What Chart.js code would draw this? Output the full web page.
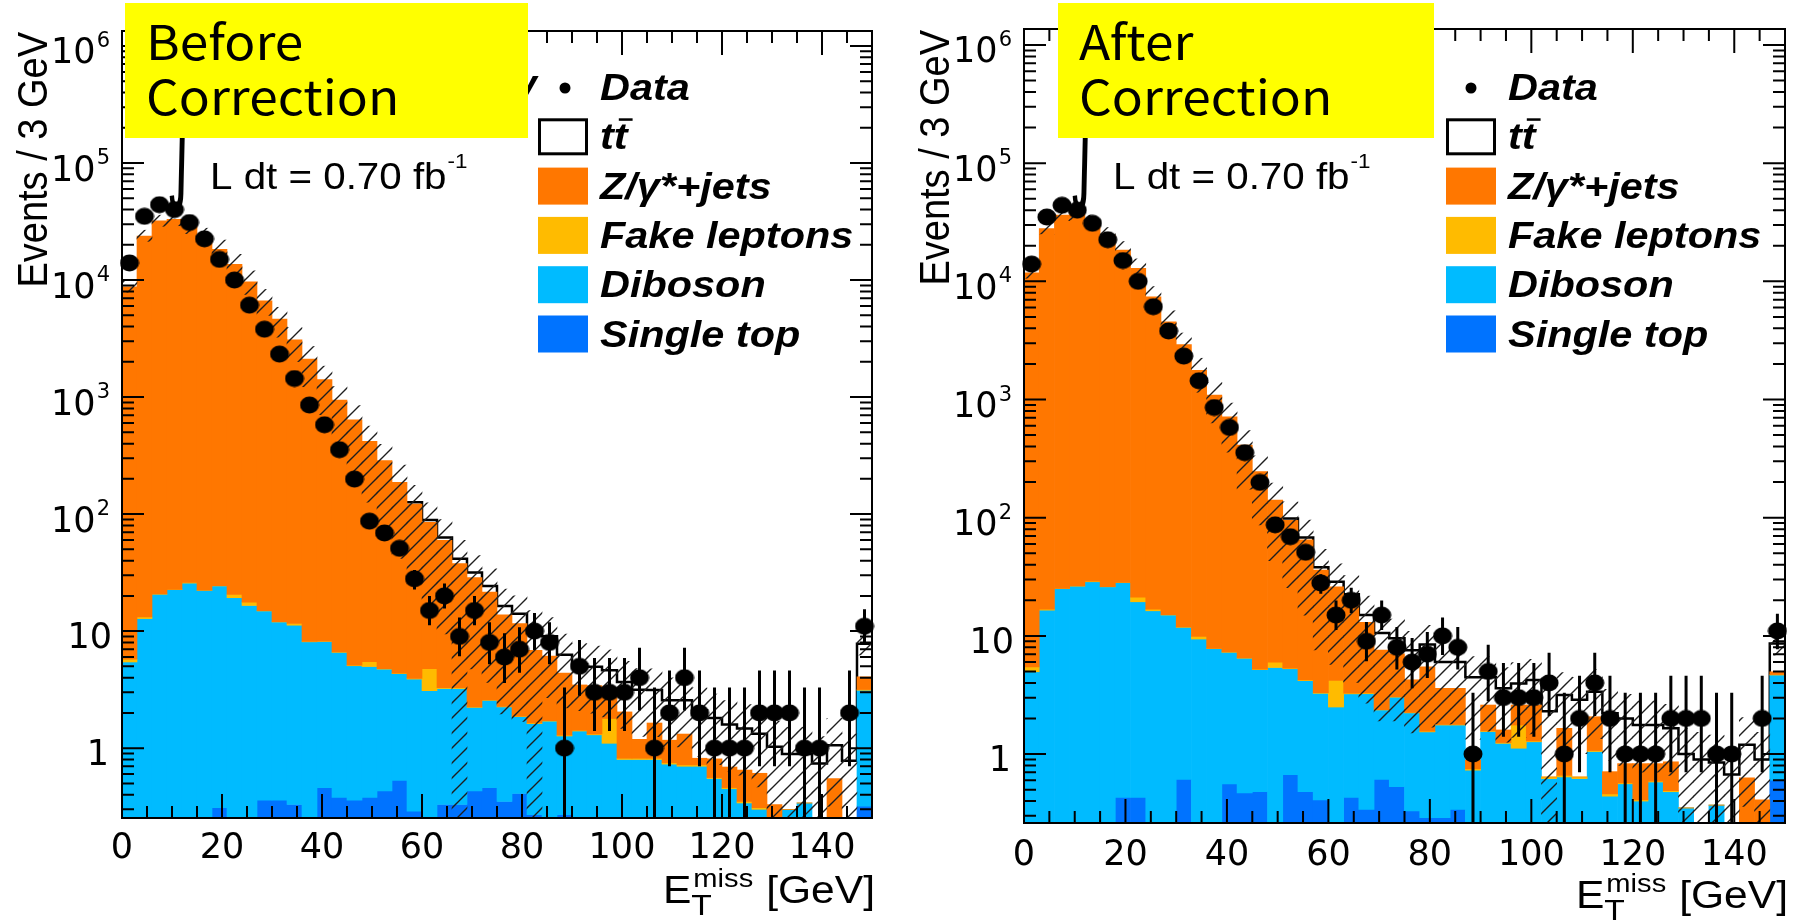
<!DOCTYPE html>
<html><head><meta charset="utf-8">
<script src="https://cdn.jsdelivr.net/npm/chart.js@4.4.1/dist/chart.umd.min.js"></script>
<style>
html,body{margin:0;padding:0;background:#fff;}
#wrap{position:relative;width:1800px;height:922px;overflow:hidden;}
.panel{position:absolute;top:0;width:900px;height:922px;}
</style></head><body>
<div id="wrap">
<div class="panel" style="left:0"><canvas id="c1" width="900" height="922"></canvas></div>
<div class="panel" style="left:900px"><canvas id="c2" width="900" height="922"></canvas></div>
</div>
<script>
// ---------------- data ----------------
const NB = 50;
const BIN_W = 3; // GeV
const xTickValues = [0, 20, 40, 60, 80, 100, 120, 140];
const yTickExponents = [0, 1, 2, 3, 4, 5, 6];

const dataCounts = [14000, 35000, 44000, 40000, 31000, 22500, 15000, 10000, 6100, 3800, 2330, 1440, 855, 580, 355, 199, 87, 69, 51, 28, 15, 20, 9, 15, 8, 6, 7, 10, 8, 1, 5, 3, 3, 3, 4, 1, 2, 4, 2, 1, 1, 1, 2, 2, 2, 1, 1, 0, 2, 11];
const dataErrUp = [118, 187, 210, 200, 176, 150, 122, 100, 78, 62, 48, 38, 29, 24, 19, 14, 9.8, 8.8, 7.7, 5.3, 4.96, 5.5, 4.1, 4.96, 3.9, 3.6, 3.8, 4.3, 3.9, 2.3, 3.4, 2.9, 2.9, 2.9, 3.2, 2.3, 2.6, 3.2, 2.6, 2.3, 2.3, 2.3, 2.6, 2.6, 2.6, 2.3, 2.3, 0, 2.6, 4.4];
const dataErrDown = [118, 187, 210, 200, 176, 150, 122, 100, 78, 62, 48, 38, 29, 24, 19, 14, 9.3, 8.3, 7.1, 5.3, 3.8, 4.4, 2.9, 3.8, 2.8, 2.4, 2.6, 3.1, 2.8, 0.83, 2.2, 1.6, 1.6, 1.6, 1.9, 0.83, 1.3, 1.9, 1.3, 0.83, 0.83, 0.83, 1.3, 1.3, 1.3, 0.83, 0.83, 0, 1.3, 3.3];

// Before correction (left)
const beforeSingleTop = [0.1, 0.1, 0.15, 0.15, 0.2, 0.2, 0.31, 0.2, 0.26, 0.36, 0.36, 0.33, 0.2, 0.46, 0.38, 0.36, 0.38, 0.43, 0.53, 0.29, 0.2, 0.33, 0.33, 0.43, 0.46, 0.35, 0.41, 0.27, 0.2, 0.27, 0.2, 0.2, 0.2, 0.2, 0.2, 0.2, 0.2, 0.2, 0.2, 0.15, 0.15, 0.1, 0.1, 0, 0.1, 0.1, 0, 0, 0, 0.32];
const beforeDiboson = [5.35, 12.7, 20.5, 22.5, 25.5, 22.1, 24.0, 19.1, 16.3, 14.5, 11.6, 10.9, 7.9, 7.7, 6.2, 4.7, 4.6, 4.3, 3.8, 3.6, 2.9, 2.9, 2.9, 1.8, 2.1, 1.9, 1.45, 1.35, 1.5, 1.0, 1.2, 1.1, 0.9, 0.6, 0.6, 0.6, 0.53, 0.5, 0.5, 0.4, 0.3, 0.24, 0.2, 0.1, 0.2, 0.24, 0.05, 0.05, 0.05, 2.8];
const beforeFake = [0.3, 0.4, 0.1, 0.1, 0.4, 0.1, 0.1, 1.3, 1.1, 0.1, 0.1, 0.4, 0.05, 0.05, 0.05, 0.05, 0.5, 0.05, 0.05, 0.05, 1.67, 0.05, 0.05, 0.02, 0.02, 0.02, 0.02, 0.02, 0.02, 0.02, 0.02, 0.02, 0.69, 0.02, 0.02, 0.02, 0.02, 0.02, 0.02, 0.01, 0.01, 0.01, 0.01, 0, 0, 0, 0, 0, 0, 0.05];
const beforeZjets = [8744, 23787, 31979, 33077, 28974, 23477, 18276, 13579, 9642, 6635, 4628, 3078, 2102, 1402, 937, 633, 413.5, 282, 182.7, 118, 80.2, 56.3, 34.4, 26.4, 19.0, 11.5, 9.7, 5.2, 4.4, 3.1, 2.05, 2.1, 1.43, 1.22, 0.37, 0.82, 0.42, 0.6, 0.1, 0.25, 0.23, 0.3, 0.3, 0.23, 0, 0, 0, 0.5, 0, 0.9];
const beforeTtbar = [0.3, 0.6, 1.0, 1.3, 1.6, 2.0, 2.2, 2.4, 2.6, 2.8, 3.0, 3.1, 3.2, 3.3, 3.3, 3.4, 3.4, 3.3, 3.3, 4.0, 4.0, 3.5, 3.8, 3.0, 2.7, 2.6, 2.5, 3.5, 2.9, 1.9, 1.75, 1.55, 1.4, 1.64, 1.96, 1.5, 1.4, 1.24, 1.29, 1.0, 0.9, 0.82, 0.72, 0.7, 0.59, 0.55, 0.69, 0.51, 0.73, 3.74];
const beforeUncUp = [0.12, 0.12, 0.12, 0.14, 0.16, 0.18, 0.2, 0.22, 0.24, 0.25, 0.26, 0.27, 0.28, 0.3, 0.3, 0.32, 0.34, 0.36, 0.38, 0.4, 0.4, 0.42, 0.44, 0.4, 0.4, 0.4, 0.42, 0.45, 0.45, 0.5, 0.5, 0.5, 0.5, 0.5, 0.52, 0.52, 0.55, 0.55, 0.55, 0.6, 0.6, 0.6, 0.6, 0.65, 0.7, 0.7, 0.7, 0.7, 0.7, 0.2];
const beforeUncDown = [0.1, 0.1, 0.1, 0.12, 0.14, 0.16, 0.18, 0.2, 0.22, 0.25, 0.3, 0.35, 0.42, 0.5, 0.58, 0.65, 0.7, 0.74, 0.78, 0.8, 0.82, 0.85, 1.0, 0.85, 0.85, 0.88, 0.88, 1.0, 0.7, 0.65, 0.6, 0.6, 0.6, 0.6, 0.6, 0.6, 0.6, 0.6, 0.6, 0.6, 0.6, 0.6, 0.65, 1.0, 1.0, 1.0, 1.0, 0.7, 0.8, 0.2];

// After correction (right)
const afterSingleTop = [0.1, 0.1, 0.15, 0.15, 0.2, 0.2, 0.43, 0.43, 0.2, 0.2, 0.61, 0.2, 0.2, 0.56, 0.47, 0.48, 0.2, 0.67, 0.48, 0.41, 0.2, 0.43, 0.34, 0.61, 0.53, 0.33, 0.29, 0.29, 0.34, 0.2, 0.2, 0.2, 0.2, 0.2, 0.2, 0.2, 0.2, 0.2, 0.15, 0.15, 0.15, 0.15, 0.1, 0.1, 0, 0.1, 0, 0, 0, 0.6];
const afterDiboson = [4.87, 16.4, 25.0, 26.2, 28.5, 25.8, 27.8, 19.0, 16.1, 14.8, 11.2, 9.2, 7.6, 6.7, 6.0, 4.7, 5.2, 4.6, 3.7, 2.85, 2.3, 2.8, 2.9, 1.75, 2.5, 1.9, 1.25, 1.47, 1.42, 0.53, 1.35, 1.03, 0.92, 1.07, 0.42, 0.44, 0.42, 0.85, 0.29, 0.41, 0.25, 0.43, 0.38, 0.25, 0.05, 0.27, 0.05, 0.05, 0.05, 4.06];
const afterFake = [0.5, 0.3, 0.1, 0.1, 0.3, 0.1, 0.1, 1.8, 0.5, 0.1, 0.1, 0.5, 0.05, 0.05, 0.05, 0.05, 0.6, 0.05, 0.05, 0.05, 1.7, 0.05, 0.05, 0.02, 0.02, 0.02, 0.02, 0.02, 0.02, 0.02, 0.02, 0.02, 0.64, 0.02, 0.02, 0.02, 0.02, 0.02, 0.02, 0.01, 0.01, 0.01, 0.01, 0, 0, 0, 0, 0, 0, 0.05];
const afterZjets = [11795, 27983, 36275, 37473, 31871, 24574, 18372, 12879, 7383, 4525, 2908, 1760, 1082, 707, 404.5, 240, 135, 89.6, 60.8, 32.7, 21.8, 16.7, 9.7, 5.2, 4.0, 2.0, 3.9, 1.82, 1.82, 0.14, 1.03, 0.35, 0.84, 1.31, 0, 0.99, 0, 1.0, 0.25, 0.26, 0.42, 0.24, 0.37, 0, 0, 0, 0, 0.58, 0.36, 0.26];
const afterTtbar = [0.3, 0.6, 1.0, 1.3, 1.6, 2.0, 2.2, 2.4, 2.6, 2.8, 3.0, 3.1, 3.2, 3.3, 3.3, 3.4, 3.4, 3.6, 3.0, 2.0, 2.7, 2.5, 2.0, 3.0, 2.5, 3.3, 3.0, 2.4, 2.4, 3.57, 1.86, 2.0, 1.36, 1.63, 1.66, 1.51, 2.24, 1.3, 1.5, 1.17, 0.93, 0.93, 0.79, 0.65, 0.85, 0.48, 0.62, 0.57, 0.49, 3.63];
const afterUncUp = [0.1, 0.1, 0.1, 0.12, 0.14, 0.16, 0.18, 0.2, 0.22, 0.24, 0.25, 0.26, 0.28, 0.3, 0.32, 0.34, 0.36, 0.38, 0.4, 0.42, 0.42, 0.44, 0.45, 0.45, 0.45, 0.45, 0.45, 0.5, 0.5, 0.5, 0.5, 0.5, 0.5, 0.5, 0.55, 0.55, 0.55, 0.55, 0.6, 0.6, 0.6, 0.6, 0.6, 0.65, 0.7, 0.7, 0.7, 0.7, 0.7, 0.2];
const afterUncDown = [0.1, 0.1, 0.1, 0.12, 0.14, 0.16, 0.18, 0.2, 0.22, 0.25, 0.3, 0.35, 0.42, 0.5, 0.58, 0.65, 0.7, 0.74, 0.78, 0.8, 0.8, 0.82, 0.82, 0.82, 0.8, 0.8, 0.8, 0.7, 0.7, 0.7, 0.65, 0.65, 0.65, 0.65, 1.0, 0.65, 0.65, 0.6, 0.6, 0.6, 0.6, 0.6, 0.6, 1.0, 1.0, 1.0, 1.0, 0.7, 0.8, 0.2];

const legendLabels = ['Data', 'tt', 'Z/γ*+jets', 'Fake leptons', 'Diboson', 'Single top'];

// ---------------- styles ----------------
const COL = { st: '#0073ff', db: '#00bbff', fk: '#ffbb00', zj: '#ff7700', tt: '#ffffff' };
const SX = 1.12;          // horizontal text stretch of the original figure
const FLOOR = 1e-4;       // stand-in for 0 on the log axis (below the visible range)
const binLow = Array.from({length: NB}, (_, i) => i * BIN_W);
const binCenter = binLow.map(v => v + BIN_W / 2);

const panels = [
  { id: 'c1', boxText: ['Before', 'Correction'],
    st: beforeSingleTop, db: beforeDiboson, fk: beforeFake, zj: beforeZjets, tt: beforeTtbar,
    up: beforeUncUp, dn: beforeUncDown,
    g: { yW: 122, padTop: 31, padRight: 28, xH: 104, yMin: 0.253, yMax: 1.343e6,
         box: [125, 3, 403, 135], boxTextX: 146, lumiX: 210, intX: 182,
         legBox: 538, legText: 600, legDot: 565, prelim: true, xPad: 10 } },
  { id: 'c2', boxText: ['After', 'Correction'],
    st: afterSingleTop, db: afterDiboson, fk: afterFake, zj: afterZjets, tt: afterTtbar,
    up: afterUncUp, dn: afterUncDown,
    g: { yW: 124, padTop: 29, padRight: 15, xH: 99, yMin: 0.261, yMax: 1.365e6,
         box: [158, 3, 376, 135], boxTextX: 179, lumiX: 213, intX: 185,
         legBox: 546, legText: 608, legDot: 571, prelim: false, xPad: 12 } }
];

function makeHatch(ctx) {
  const c = document.createElement('canvas');
  const P = 15;
  c.width = P; c.height = P;
  const g = c.getContext('2d');
  g.strokeStyle = '#1e1e1e';
  g.lineWidth = 1.4;
  g.beginPath();
  g.moveTo(-2, P + 2); g.lineTo(P + 2, -2);
  g.moveTo(-2, 2); g.lineTo(2, -2);
  g.moveTo(P - 2, P + 2); g.lineTo(P + 2, P - 2);
  g.stroke();
  return ctx.createPattern(c, 'repeat');
}

function stretchText(ctx, text, x, y, align, sx) {
  const s = sx || SX;
  ctx.save();
  const w = ctx.measureText(text).width * s;
  const x0 = align === 'right' ? x - w : x;
  ctx.translate(x0, y);
  ctx.scale(s, 1);
  ctx.textAlign = 'left';
  ctx.fillText(text, 0, 0);
  ctx.restore();
  return w;
}

function drawFrame(chart) {
  const {ctx, chartArea: a, scales: {x, y}} = chart;
  ctx.save();
  ctx.strokeStyle = '#000';
  ctx.lineWidth = 2;
  ctx.beginPath();
  for (let k = -1; k <= 7; k++) {
    for (let m = 1; m <= 9; m++) {
      const v = m * Math.pow(10, k);
      if (v < y.min || v > y.max) continue;
      const py = y.getPixelForValue(v);
      const len = m === 1 ? 22 : 12;
      ctx.moveTo(a.left, py); ctx.lineTo(a.left + len, py);
      ctx.moveTo(a.right, py); ctx.lineTo(a.right - len, py);
    }
  }
  for (let v = 0; v <= 150; v += 5) {
    const px = x.getPixelForValue(v);
    const len = v % 20 === 0 ? 24 : 12;
    ctx.moveTo(px, a.bottom); ctx.lineTo(px, a.bottom - len);
    ctx.moveTo(px, a.top); ctx.lineTo(px, a.top + len);
  }
  ctx.stroke();
  ctx.strokeRect(a.left, a.top, a.right - a.left, a.bottom - a.top);
  ctx.restore();
}

function drawErrorBars(chart) {
  const {ctx, chartArea: a, scales: {x, y}} = chart;
  ctx.save();
  ctx.strokeStyle = '#000';
  ctx.lineWidth = 3;
  ctx.beginPath();
  dataCounts.forEach((n, i) => {
    if (n <= 0) return;
    const px = x.getPixelForValue(binCenter[i]);
    const lo = n - dataErrDown[i];
    const y1 = lo > 0 ? Math.min(y.getPixelForValue(lo), a.bottom) : a.bottom;
    const y2 = Math.max(y.getPixelForValue(n + dataErrUp[i]), a.top);
    ctx.moveTo(px, y1); ctx.lineTo(px, y2);
  });
  ctx.stroke();
  ctx.restore();
}

function drawOverlay(chart, p) {
  const {ctx, chartArea: a, scales: {y}} = chart;
  const g = p.g;
  ctx.save();
  ctx.fillStyle = '#000';
  ctx.textBaseline = 'alphabetic';

  // y tick labels
  yTickExponents.forEach(k => {
    const py = y.getPixelForValue(Math.pow(10, k));
    ctx.font = '35px "DejaVu Sans"';
    ctx.textAlign = 'right';
    if (k === 0) {
      ctx.fillText('1', a.left - 13, py + 17);
    } else if (k === 1) {
      ctx.fillText('10', a.left - 10, py + 17);
    } else {
      ctx.font = '21px "DejaVu Sans"';
      const ws = ctx.measureText(String(k)).width;
      ctx.textAlign = 'left';
      ctx.fillText(String(k), a.left - 12 - ws, py + 1);
      ctx.font = '35px "DejaVu Sans"';
      ctx.textAlign = 'right';
      ctx.fillText('10', a.left - 13 - ws, py + 17.5);
    }
  });

  // y title (rotated)
  ctx.save();
  ctx.translate(a.left - 75, a.top + 1);
  ctx.rotate(-Math.PI / 2);
  ctx.scale(1, SX);
  ctx.font = '38px "Liberation Sans"';
  ctx.textAlign = 'right';
  ctx.fillText('Events / 3 GeV', 0, 0);
  ctx.restore();

  // x title
  const base = a.bottom + 85;
  ctx.font = '38px "Liberation Sans"';
  const wG = ctx.measureText('[GeV]').width * SX;
  const xG = a.right + 3 - wG;
  stretchText(ctx, '[GeV]', xG, base, 'left');
  ctx.font = '26px "Liberation Sans"';
  const wM = ctx.measureText('miss').width * SX;
  const xM = xG - 13 - wM;
  stretchText(ctx, 'miss', xM, base - 16, 'left');
  ctx.font = '30px "Liberation Sans"';
  stretchText(ctx, 'T', xM - 2, base + 12, 'left');
  ctx.font = '38px "Liberation Sans"';
  stretchText(ctx, 'E', xM - 2, base, 'right');

  // label hidden behind the yellow box + integral sign
  if (g.prelim) {
    ctx.font = 'italic bold 40px "Liberation Sans"';
    ctx.textAlign = 'right';
    ctx.fillText('ATLAS Preliminary', 537, 98);
  }
  ctx.save();
  ctx.translate(g.intX, 0);
  ctx.scale(0.5, 1);
  ctx.font = '120px "DejaVu Sans"';
  ctx.textAlign = 'center';
  ctx.fillText('∫', 0, 186);
  ctx.restore();

  // luminosity
  ctx.font = '36px "Liberation Sans"';
  const wl = stretchText(ctx, 'L dt = 0.70 fb', g.lumiX, 189, 'left');
  ctx.font = '20px "Liberation Sans"';
  stretchText(ctx, '-1', g.lumiX + wl + 1, 168, 'left');

  // yellow box
  ctx.fillStyle = '#ffff00';
  ctx.fillRect(g.box[0], g.box[1], g.box[2], g.box[3]);
  ctx.fillStyle = '#000';
  ctx.font = '48px "Noto Sans CJK JP"';
  stretchText(ctx, p.boxText[0], g.boxTextX, 60, 'left', 1.07);
  stretchText(ctx, p.boxText[1], g.boxTextX, 115, 'left', 1.07);

  // legend
  const fills = [null, COL.tt, COL.zj, COL.fk, COL.db, COL.st];
  legendLabels.forEach((lab, i) => {
    const bl = 100 + i * 49.3;
    if (i === 0) {
      ctx.beginPath();
      ctx.arc(g.legDot, bl - 12, 5.5, 0, Math.PI * 2);
      ctx.fill();
    } else {
      ctx.fillStyle = fills[i];
      ctx.fillRect(g.legBox, bl - 31, 50, 37);
      if (i === 1) {
        ctx.strokeStyle = '#000';
        ctx.lineWidth = 3;
        ctx.strokeRect(g.legBox + 1.5, bl - 29.5, 47, 34);
      }
      ctx.fillStyle = '#000';
    }
    ctx.font = 'italic bold 37px "Liberation Sans"';
    stretchText(ctx, lab, g.legText, bl, 'left');
    if (i === 1) {
      const w1 = ctx.measureText('t').width * SX;
      ctx.fillRect(g.legText + w1 + 5, bl - 31, w1, 2.5);
    }
  });
  ctx.restore();
}

function dotImage() {
  const c = document.createElement('canvas');
  c.width = 20; c.height = 18;
  const g = c.getContext('2d');
  g.fillStyle = '#000';
  g.beginPath();
  g.ellipse(10, 9, 9.5, 8.5, 0, 0, Math.PI * 2);
  g.fill();
  return c;
}

function buildChart(p) {
  const g = p.g;
  const comps = [p.st, p.db, p.fk, p.zj, p.tt];
  const layers = [];
  let run = new Array(NB).fill(0);
  comps.forEach(arr => {
    const lo = run.slice();
    run = run.map((v, i) => v + arr[i]);
    layers.push({lo, hi: run.slice()});
  });
  const total = run;
  const ttVisible = p.tt.map((t, i) => t / total[i] > 0.025);
  const mk = L => binCenter.map((x, i) => ({x, y: [Math.max(L.lo[i], FLOOR), Math.max(L.hi[i], FLOOR)]}));
  const bar = {type: 'bar', grouped: false, barPercentage: 1, categoryPercentage: 1, borderWidth: 0};
  const ctx = document.getElementById(p.id).getContext('2d');
  const hatch = makeHatch(ctx);

  const datasets = [
    {...bar, label: 'Single top', data: mk(layers[0]), backgroundColor: COL.st, order: 5},
    {...bar, label: 'Diboson', data: mk(layers[1]), backgroundColor: COL.db, order: 4},
    {...bar, label: 'Fake leptons', data: mk(layers[2]), backgroundColor: COL.fk, order: 3},
    {...bar, label: 'Z/γ*+jets', data: mk(layers[3]), backgroundColor: COL.zj, order: 2},
    {...bar, label: 'tt', data: mk(layers[4]), backgroundColor: COL.tt, order: 7},
    {type: 'line', label: 'tt outline',
     data: binLow.map((x, i) => ({x, y: total[i]})).concat([{x: 150, y: total[NB - 1]}]),
     stepped: 'before', borderColor: '#000', borderWidth: 2.5, pointRadius: 0, fill: false, order: 6,
     segment: {borderColor: c => ttVisible[c.p0DataIndex] ? '#000' : 'rgba(0,0,0,0)'}},
    {...bar, label: 'Uncertainty',
     data: binCenter.map((x, i) => ({x, y: [Math.max(total[i] * (1 - p.dn[i]), FLOOR), total[i] * (1 + p.up[i])]})),
     backgroundColor: hatch, order: 1},
    {type: 'line', label: 'Data',
     data: binCenter.map((x, i) => ({x, y: dataCounts[i] > 0 ? dataCounts[i] : null})),
     showLine: false, pointStyle: dotImage(), pointRadius: 9, pointHoverRadius: 9,
     order: 0, clip: false}
  ];

  const plugin = {
    id: 'rootStyle' + p.id,
    afterDatasetDraw(chart, args) {
      if (args.index === 6) { drawFrame(chart); drawErrorBars(chart); }
    },
    afterDraw(chart) { drawOverlay(chart, p); }
  };

  new Chart(ctx, {
    type: 'bar',
    data: {datasets},
    options: {
      responsive: false,
      animation: false,
      events: [],
      layout: {padding: {top: g.padTop, right: g.padRight, left: 0, bottom: 0}},
      plugins: {legend: {display: false}, tooltip: {enabled: false}, title: {display: false}},
      scales: {
        x: {
          type: 'linear', min: 0, max: 150, offset: false, position: 'bottom',
          grid: {display: false, drawTicks: false}, border: {display: false},
          ticks: {color: '#000', font: {family: 'DejaVu Sans', size: 35}, padding: g.xPad,
                  maxRotation: 0, autoSkip: false, callback: v => String(v)},
          afterBuildTicks: s => { s.ticks = xTickValues.map(v => ({value: v})); },
          afterFit: s => { s.height = g.xH; }
        },
        y: {
          type: 'logarithmic', min: g.yMin, max: g.yMax, stacked: false,
          grid: {display: false, drawTicks: false}, border: {display: false},
          ticks: {display: false},
          afterFit: s => { s.width = g.yW; }
        }
      }
    },
    plugins: [plugin]
  });
}

panels.forEach(buildChart);
</script>
</body></html>
